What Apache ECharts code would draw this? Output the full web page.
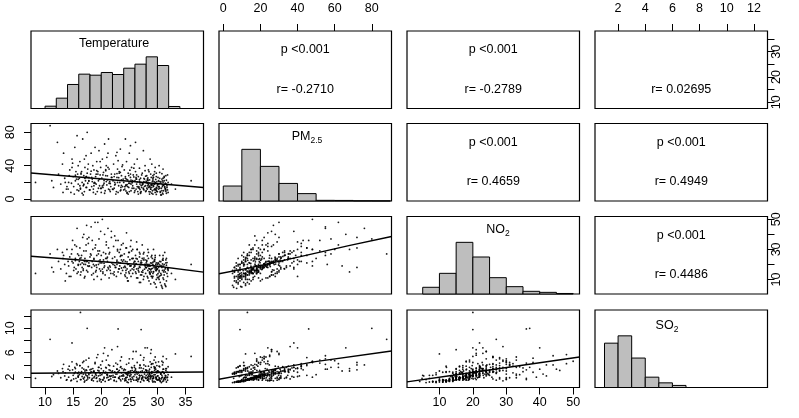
<!DOCTYPE html>
<html><head><meta charset="utf-8">
<script src="https://cdn.jsdelivr.net/npm/echarts@6/dist/echarts.min.js"></script>
<style>html,body{margin:0;padding:0;background:#fff}#c{width:799px;height:418px}</style>
</head><body><div id="c"></div>
<script>
// ---------- data ----------
const varNames = ['Temperature', 'PM2.5', 'NO2', 'SO2'];
const tempRange = [7.5, 38.2];
const pmRange = [-2.3, 90.6];
const no2Range = [0.3, 51.9];
const so2Range = [0.3, 13.0];

const tempTicks = [10, 15, 20, 25, 30, 35];
const tempLabelsBottom = [10, 15, 20, 25, 30, 35];
const tempLabelsRight = [10, 20, 30];
const pmTicks = [0, 20, 40, 60, 80];
const pmLabelsTop = [0, 20, 40, 60, 80];
const pmLabelsLeft = [0, 40, 80];
const no2Ticks = [10, 20, 30, 40, 50];
const no2LabelsBottom = [10, 20, 30, 40, 50];
const no2LabelsRight = [10, 30, 50];
const so2Ticks = [2, 4, 6, 8, 10, 12];
const so2LabelsTop = [2, 4, 6, 8, 10, 12];
const so2LabelsLeft = [2, 6, 10];

// histograms: bin breaks and bar height relative to the tallest bar
const tempBreaks = [10, 12, 14, 16, 18, 20, 22, 24, 26, 28, 30, 32, 34];
const tempHist = [0.045, 0.20, 0.465, 0.665, 0.645, 0.697, 0.658, 0.78, 0.858, 1.0, 0.832, 0.039];
const pmBreaks = [0, 10, 20, 30, 40, 50, 60, 70, 80, 90];
const pmHist = [0.29, 1.0, 0.67, 0.34, 0.143, 0.013, 0.011, 0.004, 0.003];
const no2Breaks = [5, 10, 15, 20, 25, 30, 35, 40, 45, 50];
const no2Hist = [0.13, 0.40, 1.0, 0.716, 0.316, 0.142, 0.052, 0.032, 0.01];
const so2Breaks = [1, 2, 3, 4, 5, 6, 7];
const so2Hist = [0.858, 1.0, 0.57, 0.20, 0.09, 0.04];

// upper panel texts
const pTexts = [['', 'p <0.001', 'p <0.001', ''], ['', '', 'p <0.001', 'p <0.001'], ['', '', '', 'p <0.001']];
const rTexts = [['', 'r= -0.2710', 'r= -0.2789', 'r= 0.02695'], ['', '', 'r= 0.4659', 'r= 0.4949'], ['', '', '', 'r= 0.4486']];

// fitted (smooth) lines: [x, y]
const fitTempPM = [[7.5, 31.3], [38.2, 13.8]];
const fitTempNO2 = [[7.5, 25.4], [29, 19.3], [38.2, 14.9]];
const fitTempSO2 = [[7.5, 2.63], [38.2, 2.85]];
const fitPMNO2 = [[-2.3, 13.8], [13.5, 17.5], [41.5, 25.2], [67.6, 32.5], [90.6, 38.6]];
const fitPMSO2 = [[-2.3, 1.65], [13.5, 2.53], [31.6, 3.56], [49.6, 4.54], [90.6, 6.28]];
const fitNO2SO2 = [[0.3, 1.23], [14.1, 2.3], [29.1, 3.5], [51.9, 5.3]];

// observations: [Temperature, PM2.5, NO2, SO2] (estimated from the scatter clouds)
const samples = [
[8.3,20,14,1.8],[10.9,88,27,8.2],[11.2,22,18,2.1],[11.5,14,15,2.4],
[12.2,68,30,3.0],[12.4,30,22,2.6],[12.8,18,17,1.9],[13.1,42,28,3.4],[13.5,25,20,2.2],[13.8,12,14,1.5],[13.3,55,26,4.1],
[14.2,20,19,2.0],[14.4,35,25,3.1],[14.6,8,12,1.4],[14.8,48,30,4.5],[15.0,27,21,2.3],[15.1,15,16,1.7],[15.3,62,33,3.6],[15.4,22,24,2.8],[14.8,38,22,7.6],[15.7,11,14,1.3],[15.8,30,27,2.6],[15.9,18,15,2.0],[14.9,43,36,3.2],
[16.1,25,22,2.4],[16.2,45,31,3.9],[16.3,12,13,1.6],[16.5,33,26,2.9],[16.6,20,18,2.1],[16.7,72,38,4.4],[16.8,16,17,1.8],[16.9,28,40,3.3],[17.0,9,11,1.2],[17.1,38,24,3.0],[17.2,22,20,2.5],[17.3,52,29,4.8],[17.4,14,16,1.5],[17.5,31,22,2.2],[17.6,19,15,2.0],[17.7,42,34,3.7],[17.8,26,21,2.6],[17.9,11,19,1.9],[16.3,13,20,12.6],[17.5,80,37,10.0],[15.7,76,44,4.0],
[18.1,30,27,2.7],[18.2,55,45,3.3],[18.3,15,18,1.6],[18.4,24,22,2.3],[18.5,40,30,3.4],[18.6,12,14,1.4],[18.7,35,24,2.9],[18.8,20,19,2.1],[18.9,62,48,4.2],[19.0,27,33,2.5],[19.1,18,16,1.8],[19.2,45,26,5.2],[19.3,9,12,1.3],[19.4,33,29,3.1],[19.5,22,20,2.2],[19.6,58,37,3.6],[19.7,16,17,1.7],[19.8,29,23,2.6],[19.9,38,42,4.0],
[20.0,8,10,1.2],[20.1,25,21,2.4],[20.2,48,50,4.6],[20.3,14,15,1.6],[20.4,32,28,3.0],[20.5,19,18,2.0],[20.6,66,40,6.8],[20.7,10,13,1.3],[20.8,28,24,2.7],[20.9,40,35,3.5],[21.0,17,16,1.9],[21.1,23,22,2.3],[21.2,55,44,5.5],[21.3,12,17,1.5],[21.4,36,27,3.2],[21.5,21,19,2.2],[21.3,72,31,4.0],[21.7,15,14,1.7],[21.8,30,38,2.8],[21.9,26,21,6.5],
[22.1,22,20,2.3],[22.2,42,32,3.8],[22.3,13,15,1.5],[22.4,30,25,2.8],[22.5,18,18,2.0],[22.6,52,36,4.3],[22.7,9,12,1.3],[22.8,26,22,2.5],[22.9,36,29,7.0],[23.0,46,36,9.9],[23.1,16,17,1.8],[23.2,33,28,3.1],[23.3,20,19,2.1],[23.4,60,30,4.7],[23.5,11,14,1.4],[23.6,28,23,2.7],[23.7,39,26,3.4],[23.8,15,16,1.7],[23.9,24,34,2.4],
[24.0,20,18,2.2],[24.1,35,27,3.3],[24.2,12,13,1.4],[24.3,27,22,2.6],[24.4,17,16,1.9],[24.5,45,31,4.1],[24.6,8,11,1.2],[24.7,23,20,2.3],[24.8,31,25,2.9],[24.9,14,15,1.6],[25.0,55,28,5.0],[25.1,19,19,2.1],[25.2,26,32,2.7],[25.3,10,12,1.3],[25.4,38,29,3.6],[25.5,21,17,2.0],[25.6,16,14,1.7],[25.7,29,24,6.2],[25.8,13,18,1.5],[25.9,42,22,3.9],[24.5,24,41,2.5],[25.2,64,19,3.0],[24.8,6,9,1.1],[24.3,72,18,3.2],
[26.0,22,19,2.4],[26.1,33,26,3.2],[26.2,12,14,1.5],[26.3,18,17,2.0],[26.4,48,30,4.4],[26.5,9,11,1.3],[26.6,27,22,2.8],[26.7,15,15,1.7],[26.8,37,28,3.5],[26.9,20,18,2.2],[27.0,25,21,5.6],[27.1,9,20,9.8],[27.2,14,13,1.6],[27.3,31,24,3.0],[27.4,18,16,1.9],[27.5,58,27,4.8],[27.6,11,12,1.4],[27.7,24,20,2.5],[27.8,40,23,6.8],[27.9,16,14,1.8],[26.3,29,35,2.9],[27.0,7,8,1.2],[26.8,21,25,2.3],[27.5,13,10,1.5],[26.1,68,15,3.4],
[28.0,20,18,2.3],[28.1,28,22,3.1],[28.2,12,12,1.5],[28.3,16,16,1.9],[28.4,35,24,3.8],[28.5,9,9,1.3],[28.6,23,19,2.6],[28.7,14,14,1.7],[28.8,30,21,5.9],[28.9,18,17,2.1],[29.0,42,26,4.2],[29.1,10,11,1.4],[29.2,25,20,2.8],[29.3,15,15,1.8],[29.4,21,18,2.4],[29.5,33,23,3.4],[29.6,8,7,1.2],[29.7,19,16,2.0],[29.8,27,21,2.9],[29.9,13,13,1.6],[28.3,22,30,2.5],[28.7,48,19,4.5],[29.1,17,24,2.2],[29.4,11,8,1.3],[28.9,26,15,6.5],[29.6,38,17,3.6],[28.5,19,20,2.1],[29.8,14,10,1.7],[29.2,6,12,1.2],
[30.0,18,17,2.2],[30.1,26,21,3.0],[30.2,12,11,1.6],[30.3,15,15,1.9],[30.4,32,22,3.7],[30.5,8,8,1.3],[30.6,21,19,2.5],[30.7,13,13,1.7],[30.8,24,18,4.6],[30.9,17,16,2.0],[31.0,36,24,3.3],[31.1,10,10,1.4],[31.2,22,20,2.7],[31.3,14,7,1.8],[31.4,19,15,2.3],[31.5,28,23,3.1],[31.6,7,9,1.2],[31.7,16,14,1.9],[31.8,11,12,1.5],[31.9,20,17,2.4],[30.3,40,12,2.8],[30.7,5,6,1.1],[31.0,25,26,5.4],[31.4,12,6,1.6],
[32.5,18,14,2.0],[33.2,12,10,5.8],[36.0,22,20,5.4],
[13.2,8,24,2.9],[13.9,15,30,1.6],[14.3,28,12,3.8],[14.7,19,27,1.5],[15.2,6,18,2.6],[15.5,33,17,1.8],[15.6,24,32,4.2],[14.1,12,22,3.3],[15.9,40,20,2.1],[13.6,20,9,2.7],
[16.0,10,26,2.8],[16.4,30,15,1.6],[16.6,7,21,3.5],[16.9,18,29,4.6],[17.1,25,12,1.4],[17.3,14,33,2.3],[17.6,36,19,1.7],[17.8,22,38,5.1],[16.2,16,24,3.9],[17.0,48,22,2.0],[16.8,5,16,2.5],[17.4,27,46,3.1],
[18.0,11,25,3.2],[18.3,26,13,1.5],[18.6,8,20,2.9],[18.9,19,31,4.4],[19.2,34,18,1.9],[19.5,13,27,3.6],[19.8,45,21,2.3],[18.4,21,36,1.8],[19.0,6,15,2.6],[19.4,30,48,5.7],[18.7,16,10,3.0],[19.7,24,29,1.4],
[20.0,13,26,3.4],[20.3,29,14,1.5],[20.6,7,19,2.7],[20.9,21,33,4.8],[21.2,38,18,2.0],[21.5,11,28,3.9],[21.8,26,42,2.2],[20.4,17,23,5.9],[21.0,50,24,2.4],[21.6,9,16,3.1],[20.8,34,52,3.6],[21.4,19,11,1.6],
[22.0,12,24,3.0],[22.3,27,13,1.4],[22.6,6,18,2.5],[22.9,20,30,4.1],[23.2,31,17,1.8],[23.5,14,26,3.7],[23.8,41,22,2.2],[22.4,17,39,2.0],[23.0,8,15,2.9],[23.6,23,33,5.3],[22.8,56,20,3.3],[23.4,10,21,1.6],
[24.0,11,23,3.1],[24.3,25,12,1.5],[24.6,7,17,2.6],[24.9,19,28,4.3],[25.2,30,16,1.7],[25.5,13,24,3.5],[25.8,37,21,2.1],[24.4,16,31,1.9],[25.0,9,14,2.8],[25.6,22,30,5.0],[24.7,15,9,2.4],[25.3,18,36,1.6],[25.9,8,19,3.6],
[26.0,10,22,3.0],[26.3,24,11,1.5],[26.6,6,16,2.7],[26.9,18,27,4.0],[27.2,29,15,1.8],[27.5,12,23,3.4],[27.8,34,19,2.0],[26.4,15,30,1.7],[27.0,8,13,2.9],[27.6,21,28,5.2],[26.8,13,8,2.3],[27.3,17,33,1.9],[27.9,9,18,3.8],[26.2,26,24,6.2],
[28.0,10,21,3.1],[28.3,23,11,1.5],[28.6,6,15,2.6],[28.9,17,25,4.1],[29.2,28,14,1.8],[29.5,12,22,3.5],[29.8,31,18,2.0],[28.4,14,28,1.7],[29.0,7,12,2.9],[29.6,20,26,5.3],[28.8,12,7,2.3],[29.3,16,30,1.9],[29.9,9,17,3.9],[28.2,24,20,6.8],[29.4,18,19,4.8],[28.6,15,17,3.3],[29.7,11,20,4.4],
[30.0,9,20,3.0],[30.3,21,10,1.5],[30.6,5,14,2.6],[30.9,15,23,4.0],[31.2,26,13,1.8],[31.5,11,21,3.4],[31.8,29,17,2.0],[30.4,13,26,1.7],[31.0,6,11,2.8],[31.6,18,24,5.0],[30.8,10,5,2.3],[31.3,15,28,1.9],[31.9,8,16,3.7],[30.2,22,18,4.5],[31.1,17,15,3.3],
[28.4,17.5,19.2,2.2],[29.1,21.3,17.4,1.7],[30.2,14.8,20.6,2.8],[29.7,23.6,18.1,3.3],[28.8,11.9,16.3,1.9],[30.6,19.4,21.8,2.5],[29.3,26.1,15.2,2.1],[31.1,16.7,18.9,1.6],[28.1,13.2,22.7,3.0],[29.9,20.8,16.6,2.7],
[30.4,24.9,19.7,1.8],[28.6,15.6,14.3,2.4],[29.5,18.1,23.4,3.1],[31.4,12.4,17.1,2.0],[30.9,21.9,20.3,2.9],[28.3,25.3,18.6,1.5],[29.0,14.1,20.9,2.6],[30.1,17.9,13.8,2.2],[31.6,22.6,19.5,3.4],[29.8,10.7,15.9,1.7],
[27.2,19.8,21.1,2.3],[26.8,23.2,18.4,1.9],[27.7,15.3,16.8,2.8],[26.4,20.7,23.6,2.5],[27.9,27.4,19.9,3.2],[26.6,13.6,17.3,1.6],[27.4,18.5,14.7,2.1],[26.2,24.1,20.5,2.7],[27.1,16.2,22.3,3.5],[28.0,21.4,17.8,1.8],
[25.3,22.8,19.1,2.4],[24.6,17.3,21.7,2.0],[25.8,26.5,16.4,2.9],[24.2,14.9,18.8,1.7],[25.5,19.6,23.9,3.1],[24.9,28.2,20.2,2.6],[23.6,16.4,17.6,2.2],[23.1,25.7,21.4,1.9],[22.4,20.1,19.3,2.8],[22.8,30.6,22.9,3.3],
[21.6,18.7,18.2,2.1],[21.1,27.9,24.8,2.5],[20.5,22.3,20.7,1.8],[20.2,15.8,16.9,2.7],[19.6,24.5,22.1,3.0],[19.1,29.8,19.6,2.3],[18.7,19.2,23.3,1.9],[18.2,33.4,26.2,2.9],[17.8,21.6,18.7,2.4],[17.3,26.8,21.9,3.2],
[16.9,17.1,20.1,1.7],[16.4,31.2,24.4,2.6],[15.9,23.7,19.4,2.2],[15.4,28.6,22.6,3.4],[19.9,12.8,15.6,1.6],[20.8,35.3,27.1,2.8],[22.1,11.6,13.9,2.0],[23.4,32.1,25.3,3.6],[24.4,9.8,14.4,1.5],[25.1,34.7,23.1,2.3],
[30.5,9.3,12.6,1.4],[29.4,29.6,22.2,3.7],[31.2,27.3,16.1,2.6],[28.7,8.6,13.4,2.1],[30.8,30.4,19.0,1.9],[29.6,12.2,24.6,2.4],[28.5,32.8,17.2,3.0],[31.7,13.9,21.2,2.8],[30.0,16.1,11.3,1.5],[28.2,19.0,25.7,2.0],
[29.2,22.9,21.5,4.2],[30.3,18.6,16.0,3.8],[27.6,24.8,24.2,4.0],[28.9,16.9,12.1,3.6],[26.9,11.4,19.8,3.9],[31.0,20.2,22.8,4.4],
[30.9,7.2,4.1,1.3],[31.5,9.4,5.3,2.2],[29.8,5.6,4.8,1.8]
];

// ---------- layout ----------
const colLeft = [31, 219, 407, 595];
const rowTop = [31, 123.5, 216.5, 310];
const cellW = 172.5, cellH = 77.5;
const FONT = '"Liberation Sans", Arial, sans-serif';
const FS = 12.5;

const ranges = [tempRange, pmRange, no2Range, so2Range];
const hists = [[tempBreaks, tempHist], [pmBreaks, pmHist], [no2Breaks, no2Hist], [so2Breaks, so2Hist]];
const fits = {'1_0': fitTempPM, '2_0': fitTempNO2, '3_0': fitTempSO2, '2_1': fitPMNO2, '3_1': fitPMSO2, '3_2': fitNO2SO2};

// axis decorations: key "r_c"
const xAxisDeco = {
  '0_1': {pos: 'top', ticks: pmTicks, labels: pmLabelsTop, margin: 16},
  '0_3': {pos: 'top', ticks: so2Ticks, labels: so2LabelsTop, margin: 16},
  '3_0': {pos: 'bottom', ticks: tempTicks, labels: tempLabelsBottom, margin: 9},
  '3_2': {pos: 'bottom', ticks: no2Ticks, labels: no2LabelsBottom, margin: 9}
};
const yAxisDeco = {
  '0_3': {pos: 'right', ticks: tempTicks, labels: tempLabelsRight, margin: 3},
  '2_3': {pos: 'right', ticks: no2Ticks, labels: no2LabelsRight, margin: 3},
  '1_0': {pos: 'left', ticks: pmTicks, labels: pmLabelsLeft, margin: 14},
  '3_0': {pos: 'left', ticks: so2Ticks, labels: so2LabelsLeft, margin: 14}
};

const grids = [], xAxes = [], yAxes = [], series = [], graphics = [];

function axisCfg(base, deco, isY) {
  if (!deco) return Object.assign(base, {show: false});
  return Object.assign(base, {
    show: true, position: deco.pos,
    axisLine: {show: false}, splitLine: {show: false},
    axisTick: {show: true, length: 7, inside: false, customValues: deco.ticks, lineStyle: {color: '#000', width: 1}},
    axisLabel: {show: true, customValues: deco.labels, margin: deco.margin, color: '#000',
      fontSize: FS, fontFamily: FONT, rotate: isY ? 90 : 0}
  });
}

for (let r = 0; r < 4; r++) {
  for (let c = 0; c < 4; c++) {
    const idx = r * 4 + c;
    const key = r + '_' + c;
    grids.push({left: colLeft[c], top: rowTop[r], width: cellW, height: cellH, show: true,
      borderColor: '#000', borderWidth: 1.2, backgroundColor: 'transparent', containLabel: false, outerBoundsMode: 'none'});
    xAxes.push(axisCfg({gridIndex: idx, type: 'value', min: ranges[c][0], max: ranges[c][1]}, xAxisDeco[key], false));
    const yr = r === c ? [0, 1.5] : ranges[r];
    yAxes.push(axisCfg({gridIndex: idx, type: 'value', min: yr[0], max: yr[1]}, yAxisDeco[key], true));

    if (r === c) {
      const br = hists[r][0], h = hists[r][1];
      series.push({
        type: 'custom', xAxisIndex: idx, yAxisIndex: idx, silent: true,
        encode: {x: [0, 1], y: 2},
        data: h.map((v, i) => [br[i], br[i + 1], v]),
        renderItem: function (params, api) {
          const p0 = api.coord([api.value(0), 0]);
          const p1 = api.coord([api.value(1), api.value(2)]);
          return {type: 'rect', shape: {x: p0[0], y: p1[1], width: p1[0] - p0[0], height: p0[1] - p1[1]},
            style: {fill: '#bebebe', stroke: '#000', lineWidth: 1}};
        }
      });
    } else if (r > c) {
      series.push({
        type: 'scatter', xAxisIndex: idx, yAxisIndex: idx, silent: true,
        symbol: 'circle', symbolSize: 1.8,
        itemStyle: {color: '#000', opacity: 0.9},
        data: samples.map(s => [s[c], s[r]])
      });
      series.push({
        type: 'line', xAxisIndex: idx, yAxisIndex: idx, silent: true, clip: true,
        symbol: 'none', smooth: false, z: 5,
        lineStyle: {color: '#000', width: 1.4},
        data: fits[key]
      });
    } else {
      const cx = colLeft[c] + cellW / 2;
      if (pTexts[r][c]) graphics.push({type: 'text', x: cx, y: rowTop[r] + 19,
        style: {text: pTexts[r][c], fill: '#000', fontSize: FS, fontFamily: FONT, align: 'center', verticalAlign: 'middle'}});
      graphics.push({type: 'text', x: cx, y: rowTop[r] + 58.5,
        style: {text: rTexts[r][c], fill: '#000', fontSize: FS, fontFamily: FONT, align: 'center', verticalAlign: 'middle'}});
    }
  }
}

// diagonal titles
const titleX = [114, 307, 498, 667];
const titleY = [43.5, 137, 230, 326];
const titleRich = ['Temperature', '{n|PM}{s|2.5}', '{n|NO}{s|2}', '{n|SO}{s|2}'];
for (let i = 0; i < 4; i++) {
  graphics.push({type: 'text', x: titleX[i], y: titleY[i], z: 10,
    style: {text: titleRich[i], fill: '#000', fontSize: FS, fontFamily: FONT, align: 'center', verticalAlign: 'middle',
      rich: {n: {fontSize: FS, fontFamily: FONT, fill: '#000', lineHeight: 16},
             s: {fontSize: 8.5, fontFamily: FONT, fill: '#000', verticalAlign: 'bottom', lineHeight: 10}}}});
}

const chart = echarts.init(document.getElementById('c'), null, {renderer: 'canvas'});
chart.setOption({
  animation: false, backgroundColor: '#fff',
  grid: grids, xAxis: xAxes, yAxis: yAxes, series: series, graphic: graphics
});
</script></body></html>
